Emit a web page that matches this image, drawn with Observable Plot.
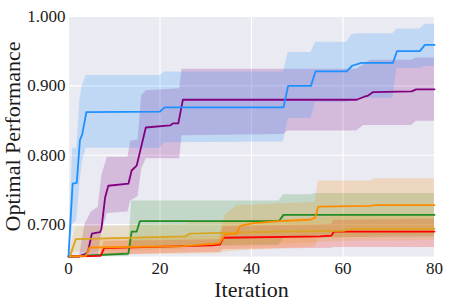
<!DOCTYPE html>
<html><head><meta charset="utf-8">
<script src="https://cdn.jsdelivr.net/npm/d3@7"></script>
<script src="https://cdn.jsdelivr.net/npm/@observablehq/plot@0.6"></script>
<style>
body{margin:0;background:#fff}
</style>
</head><body><div id="chart"></div>
<script>
// ---- data ----
const xTicks = [0, 20, 40, 60, 80];
const yTicks = [0.7, 0.8, 0.9, 1.0];
const xTitle = "Iteration";
const yTitle = "Optimal Performance";
const seriesNames = ["S-purple", "S-green", "S-red", "S-gold", "S-orange", "S-blue"];
const seriesColors = ["#800080", "#228B22", "#FF0000", "#DAA520", "#FF8C00", "#1E90FF"];

// mean lines: [iteration, value]
const blueMean = [[0,0.654],[0.9,0.759],[1.8,0.760],[2.5,0.822],[3.0,0.830],[3.9,0.862],[20,0.863],[21,0.869],[47,0.869],[48,0.900],[53,0.900],[54,0.921],[60.8,0.921],[62,0.929],[64,0.933],[70.9,0.933],[71.8,0.950],[76.8,0.950],[77.9,0.959],[80,0.959]];
const purpleMean = [[0,0.654],[2.4,0.654],[3.0,0.656],[3.8,0.658],[4.3,0.662],[5.1,0.687],[6.9,0.689],[7.2,0.694],[8,0.739],[8.7,0.756],[13.1,0.759],[13.8,0.778],[14.9,0.785],[16.9,0.840],[22.2,0.843],[22.9,0.846],[24,0.846],[25,0.880],[63,0.880],[64.5,0.884],[65.5,0.886],[66.6,0.891],[75,0.892],[76,0.895],[80,0.895]];
const greenMean = [[0,0.654],[13.1,0.658],[13.8,0.690],[14.9,0.690],[15.6,0.705],[46,0.705],[47,0.714],[80,0.714]];
const orangeMean = [[0,0.654],[3.8,0.655],[4.6,0.667],[25,0.669],[33,0.673],[34.2,0.686],[36.8,0.687],[37.5,0.698],[40.4,0.702],[46.2,0.705],[52.8,0.707],[53.9,0.710],[54.6,0.726],[66,0.727],[67,0.728],[80,0.728]];
const goldMean = [[0,0.654],[0.4,0.656],[1.6,0.679],[25.5,0.683],[26.6,0.687],[45.5,0.690],[60,0.691],[62,0.694],[80,0.694]];
const redMean = [[0,0.654],[7.0,0.655],[7.8,0.666],[31.5,0.670],[33.1,0.671],[33.8,0.681],[55,0.683],[57.5,0.684],[58,0.690],[80,0.690]];

// bands: [iteration, lower, upper]
const blueBand = [[0,0.654,0.654],[0.9,0.700,0.810],[1.8,0.705,0.810],[2.5,0.760,0.880],[3.0,0.790,0.900],[3.9,0.810,0.915],[20,0.810,0.915],[21,0.818,0.920],[47,0.819,0.920],[48,0.853,0.948],[53,0.853,0.948],[54,0.876,0.963],[60.8,0.876,0.963],[62,0.878,0.974],[64,0.882,0.975],[70.9,0.882,0.975],[71.8,0.925,0.982],[76.8,0.925,0.982],[77.9,0.928,0.989],[80,0.928,0.989]];
const purpleBand = [[0,0.654,0.654],[2.4,0.654,0.654],[3.6,0.654,0.700],[5,0.654,0.718],[6.5,0.654,0.725],[7.3,0.690,0.771],[8.5,0.716,0.797],[13,0.718,0.797],[13.6,0.734,0.820],[15.2,0.740,0.822],[16,0.780,0.886],[17,0.795,0.893],[24.3,0.795,0.896],[24.8,0.828,0.924],[47,0.830,0.924],[48,0.835,0.924],[63,0.835,0.924],[64.5,0.843,0.930],[66,0.843,0.937],[75,0.843,0.937],[76,0.849,0.940],[80,0.849,0.940]];
const greenBand = [[0,0.654,0.654],[13.1,0.654,0.660],[13.8,0.668,0.734],[46,0.670,0.734],[47,0.680,0.743],[53,0.680,0.743],[54,0.681,0.745],[80,0.682,0.745]];
const orangeBand = [[0,0.654,0.654],[3.8,0.654,0.656],[4.6,0.656,0.680],[33,0.658,0.684],[34.2,0.660,0.713],[36.8,0.662,0.727],[46,0.665,0.730],[53.9,0.668,0.732],[54.6,0.680,0.763],[66,0.682,0.763],[67,0.684,0.766],[80,0.685,0.766]];
const goldBand = [[0,0.654,0.654],[1.6,0.660,0.697],[25.5,0.664,0.700],[26.6,0.668,0.703],[45.5,0.672,0.707],[62,0.676,0.712],[80,0.677,0.712]];
const redBand = [[0,0.654,0.654],[7,0.654,0.656],[7.8,0.656,0.676],[33.1,0.660,0.678],[33.8,0.664,0.697],[57.5,0.666,0.700],[58,0.667,0.706],[80,0.667,0.708]];

const means = [purpleMean, greenMean, redMean, goldMean, orangeMean, blueMean];
const bands = [purpleBand, greenBand, redBand, goldBand, orangeBand, blueBand];

// ---- tables ----
const lineRows = seriesNames.flatMap((s, i) => means[i].map(([x, y]) => ({series: s, x, y})));
const bandRows = seriesNames.flatMap((s, i) => bands[i].map(([x, lo, hi]) => ({series: s, x, lo, hi})));
const serif = "Liberation Serif, Times New Roman, serif";

const chart = Plot.plot({
  width: 457,
  height: 305,
  marginLeft: 68,
  marginRight: 23,
  marginTop: 16,
  marginBottom: 49,
  style: {fontFamily: serif, fontSize: "17px", background: "#fff", color: "#1a1a1a"},
  x: {domain: [0, 80], label: null},
  y: {domain: [0.654, 1.0], label: null},
  color: {type: "ordinal", domain: seriesNames, range: seriesColors},
  marks: [
    Plot.frame({fill: "#EAEAF2", stroke: null}),
    Plot.gridX(xTicks, {stroke: "#fff", strokeOpacity: 1, strokeWidth: 1.2}),
    Plot.gridY(yTicks, {stroke: "#fff", strokeOpacity: 1, strokeWidth: 1.2}),
    Plot.areaY(bandRows, {x: "x", y1: "lo", y2: "hi", z: "series", fill: "series", fillOpacity: 0.2, curve: "linear"}),
    Plot.line(lineRows, {x: "x", y: "y", z: "series", stroke: "series", strokeWidth: 1.8, curve: "linear"}),
    Plot.axisX(xTicks, {tickSize: 0, tickPadding: 5, fontSize: 17, fontFamily: serif, tickFormat: d => String(d), label: null}),
    Plot.axisY(yTicks, {tickSize: 0, tickPadding: 3, fontSize: 17, fontFamily: serif, tickFormat: d3.format(".3f"), label: null}),
    Plot.text([xTitle], {text: d => d, frameAnchor: "bottom", textAnchor: "middle", lineAnchor: "middle", dy: 33, fontSize: 22, fontFamily: serif}),
    Plot.text([yTitle], {text: d => d, frameAnchor: "left", textAnchor: "middle", lineAnchor: "middle", dx: -56, rotate: -90, fontSize: 22, fontFamily: serif})
  ]
});
document.getElementById("chart").appendChild(chart);
</script>
</body></html>
